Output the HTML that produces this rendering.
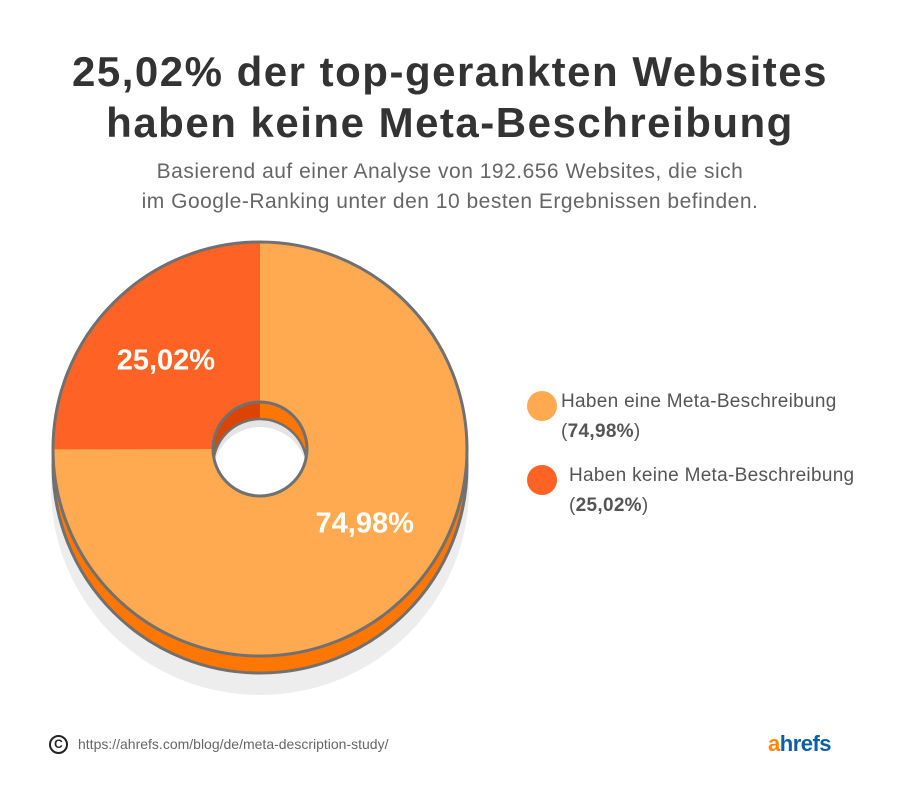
<!DOCTYPE html>
<html><head><meta charset="utf-8">
<style>
body{margin:0;background:#fff;}
#wrap{position:relative;width:900px;height:804px;overflow:hidden;font-family:"Liberation Sans",sans-serif;}
.t{position:absolute;left:0;width:900px;text-align:center;}
</style></head>
<body>
<div id="wrap">
<div class="t" style="top:46px;font-size:42px;font-weight:bold;color:#333;line-height:51px;letter-spacing:1.5px;">25,02% der top-gerankten Websites<br>haben keine Meta-Beschreibung</div>
<div class="t" style="top:157px;font-size:21px;color:#666;line-height:30px;letter-spacing:0.5px;">Basierend auf einer Analyse von 192.656 Websites, die sich<br>im Google-Ranking unter den 10 besten Ergebnissen befinden.</div>
<svg id="pie" width="900" height="804" style="position:absolute;left:0;top:0"></svg>
<div style="position:absolute;left:527px;top:387px;font-size:19px;color:#555;line-height:30px;letter-spacing:0.3px;">
 <span style="position:absolute;left:0;top:4px;width:30px;height:30px;border-radius:50%;background:#ffaa50"></span>
 <div style="margin-left:34px">Haben eine Meta-Beschreibung<br>(<b>74,98%</b>)</div></div>
<div style="position:absolute;left:527px;top:461px;font-size:19px;color:#555;line-height:30px;letter-spacing:0.3px;">
 <span style="position:absolute;left:0;top:4px;width:30px;height:30px;border-radius:50%;background:#fe6225"></span>
 <div style="margin-left:42px">Haben keine Meta-Beschreibung<br>(<b>25,02%</b>)</div></div>
<div style="position:absolute;left:49px;top:735px;width:15px;height:15px;border:2px solid #222;border-radius:50%;font-size:12px;font-weight:bold;text-align:center;line-height:15px;color:#222">C</div>
<div style="position:absolute;left:78px;top:736px;font-size:14px;color:#666;">https://ahrefs.com/blog/de/meta-description-study/</div>
<div style="position:absolute;left:768px;top:731px;font-size:22px;font-weight:bold;color:#0b5ea8;letter-spacing:-0.5px;"><span style="color:#ff8800">a</span>hrefs</div>
</div>
<script>
const categories=["Haben eine Meta-Beschreibung","Haben keine Meta-Beschreibung"];
const values=[74.98,25.02];
const labels=["74,98%","25,02%"];
const colors=["#ffaa50","#fe6225"];
const NS="http://www.w3.org/2000/svg";
const svg=document.getElementById('pie');
const cx=260,cy=449,R=207,r=47,D=17;
function mk(t,a,p){const e=document.createElementNS(NS,t);for(const k in a)e.setAttribute(k,a[k]);(p||svg).appendChild(e);return e;}
let s=mk('ellipse',{cx:cx,cy:cy+D+22,rx:R+2,ry:R,fill:'#ededed'});


let side=mk('circle',{cx:cx,cy:cy+D,r:R,fill:'#ff7700',stroke:'#707070','stroke-width':3});


const total=values.reduce((a,b)=>a+b,0);
function pt(ang,rad){return [cx+rad*Math.sin(ang),cy-rad*Math.cos(ang)];}
let a0=0;
values.forEach((v,i)=>{
 const a1=a0+v/total*2*Math.PI;
 const [x0,y0]=pt(a0,R),[x1,y1]=pt(a1,R),[ix1,iy1]=pt(a1,r),[ix0,iy0]=pt(a0,r);
 const lg=(a1-a0)>Math.PI?1:0;
 const p=mk('path',{d:`M${x0},${y0}A${R},${R} 0 ${lg} 1 ${x1},${y1}L${ix1},${iy1}A${r},${r} 0 ${lg} 0 ${ix0},${iy0}Z`,fill:colors[i]});
 
 
 const mid=(a0+a1)/2;
 const [lx,ly]=i===0?pt(mid-0.18,R*0.615):pt(mid-0.02,R*0.63);
 const tx=mk('text',{x:lx,y:ly+11,'text-anchor':'middle','font-size':29,'font-weight':'bold',fill:'#fff','font-family':'Liberation Sans, sans-serif'});
 tx.textContent=labels[i];
 
 
 a0=a1;
});
let outline=mk('circle',{cx:cx,cy:cy,r:R,fill:'none',stroke:'#707070','stroke-width':3});


const defs=mk('defs',{});
const cp=mk('clipPath',{id:'hc'},defs);mk('circle',{cx:cx,cy:cy,r:r},cp);
const g=mk('g',{'clip-path':'url(#hc)'});


mk('rect',{x:cx-r,y:cy-r,width:r,height:2*r,fill:'#dd4400'},g);
mk('rect',{x:cx,y:cy-r,width:r,height:2*r,fill:'#ff7700'},g);
mk('circle',{cx:cx,cy:cy+D,r:r,fill:'#e4e4e4',stroke:'#707070','stroke-width':2.5},g);
mk('circle',{cx:cx,cy:cy+D+8,r:r,fill:'#fff'},g);
mk('circle',{cx:cx,cy:cy,r:r,fill:'none',stroke:'#707070','stroke-width':3});
</script>
</body></html>
